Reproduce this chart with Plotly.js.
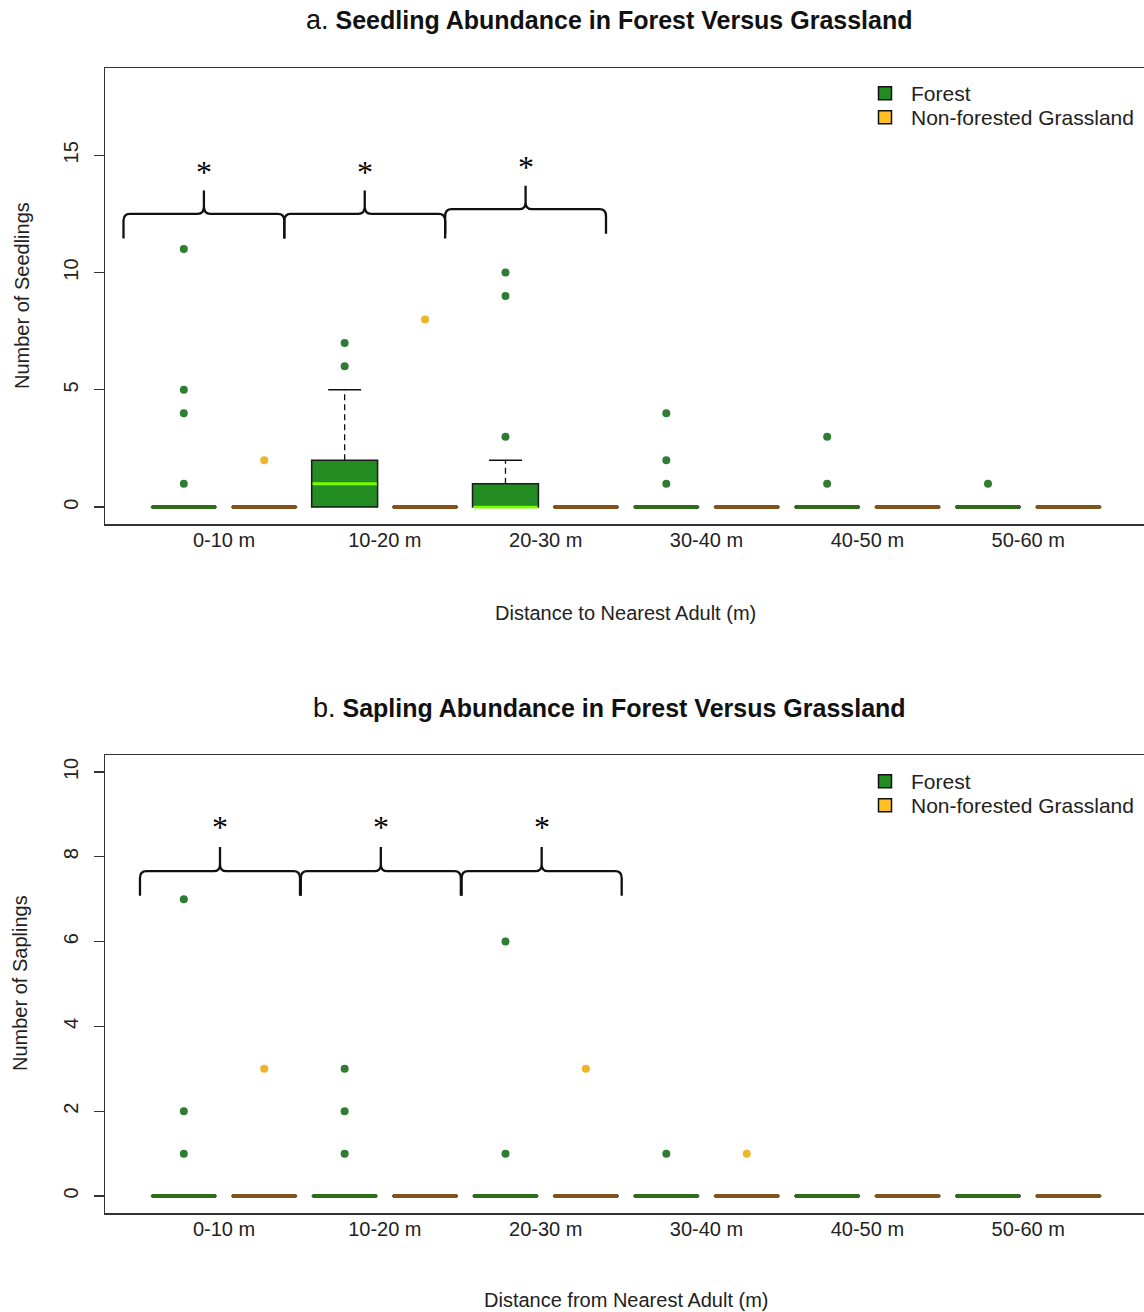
<!DOCTYPE html>
<html>
<head>
<meta charset="utf-8">
<script src="https://cdn.plot.ly/plotly-3.0.1.min.js"></script>
<style>html,body{margin:0;padding:0;background:#fff;}#chart{width:1144px;height:1312px;}</style>
</head>
<body>
<div id="chart"></div>
<script>
// ---------- data ----------
const categories = ['0-10 m', '10-20 m', '20-30 m', '30-40 m', '40-50 m', '50-60 m'];
const groupNames = ['Forest', 'Non-forested Grassland'];

// Panel a: seedlings
const seedForestQ1 = [0, 0, 0, 0, 0, 0];
const seedForestMedian = [0, 1, 0, 0, 0, 0];
const seedForestQ3 = [0, 2, 1, 0, 0, 0];
const seedForestWhiskerHigh = [0, 5, 2, 0, 0, 0];
const seedForestOutliers = [[1, 4, 5, 11], [6, 7], [3, 9, 10], [1, 2, 4], [1, 3], [1]];
const seedGrassQ1 = [0, 0, 0, 0, 0, 0];
const seedGrassMedian = [0, 0, 0, 0, 0, 0];
const seedGrassQ3 = [0, 0, 0, 0, 0, 0];
const seedGrassWhiskerHigh = [0, 0, 0, 0, 0, 0];
const seedGrassOutliers = [[2], [8], [], [], [], []];

// Panel b: saplings
const saplForestQ1 = [0, 0, 0, 0, 0, 0];
const saplForestMedian = [0, 0, 0, 0, 0, 0];
const saplForestQ3 = [0, 0, 0, 0, 0, 0];
const saplForestWhiskerHigh = [0, 0, 0, 0, 0, 0];
const saplForestOutliers = [[1, 2, 7], [1, 2, 3], [1, 6], [1], [], []];
const saplGrassQ1 = [0, 0, 0, 0, 0, 0];
const saplGrassMedian = [0, 0, 0, 0, 0, 0];
const saplGrassQ3 = [0, 0, 0, 0, 0, 0];
const saplGrassWhiskerHigh = [0, 0, 0, 0, 0, 0];
const saplGrassOutliers = [[3], [], [3], [1], [], []];

// significance braces (category index they sit over)
const seedSignifCats = [0, 1, 2];
const saplSignifCats = [0, 1, 2];

// ---------- style ----------
const FONT = 'Liberation Sans, Arial, sans-serif';
const BOXW = 0.82;
const style = {
  fill: ['#228B22', '#FFC125'],
  outlier: ['#2E7D32', '#F0B429'],
  medianLight: ['#7CFC00', '#FFD27A'],
  medianFlat: ['#2F6B18', '#80531A']
};

const W = 1144, H = 1312, PL = 105, PW = W - PL;
function py(px) { return 1 - px / H; }
function pxx(px) { return (px - PL) / PW; }

function pos(ci, gi) { return 2 * ci + gi + 1; }

const traces = [];

function addPanel(groups, xa, ya, legendIds) {
  groups.forEach((g, gi) => {
    const xs = categories.map((c, ci) => pos(ci, gi));
    traces.push({
      type: 'box', x: xs, q1: g.q1, median: g.median, q3: g.q3,
      lowerfence: g.q1, upperfence: g.q3, width: BOXW, whiskerwidth: 0,
      fillcolor: style.fill[gi], line: {color: '#1a1a1a', width: 1.5},
      boxpoints: false, showlegend: false, hoverinfo: 'skip', xaxis: xa, yaxis: ya
    });
  });
  groups.forEach((g, gi) => {
    categories.forEach((c, ci) => {
      const p = pos(ci, gi);
      if (g.wh[ci] > g.q3[ci]) {
        traces.push({type: 'scatter', mode: 'lines', x: [p, p], y: [g.q3[ci], g.wh[ci]],
          line: {color: '#111', width: 1.3, dash: '6px,4px'}, showlegend: false, hoverinfo: 'skip', xaxis: xa, yaxis: ya});
        traces.push({type: 'scatter', mode: 'lines', x: [p - BOXW / 4, p + BOXW / 4], y: [g.wh[ci], g.wh[ci]],
          line: {color: '#111', width: 1.5}, showlegend: false, hoverinfo: 'skip', xaxis: xa, yaxis: ya});
      }
      const flat = g.q1[ci] === g.q3[ci];
      traces.push({type: 'scatter', mode: 'lines', x: [p - BOXW / 2 + 0.01, p + BOXW / 2 - 0.01], y: [g.median[ci], g.median[ci]],
        line: {color: flat ? style.medianFlat[gi] : style.medianLight[gi], width: flat ? 4 : 3},
        showlegend: false, hoverinfo: 'skip', xaxis: xa, yaxis: ya});
    });
    const ox = [], oy = [];
    g.out.forEach((arr, ci) => arr.forEach(v => { ox.push(pos(ci, gi)); oy.push(v); }));
    traces.push({type: 'scatter', mode: 'markers', x: ox, y: oy,
      marker: {color: style.outlier[gi], size: 8}, showlegend: false, hoverinfo: 'skip', xaxis: xa, yaxis: ya});
  });
  groups.forEach((g, gi) => {
    traces.push({type: 'scatter', mode: 'markers', x: [null], y: [null], name: groupNames[gi],
      marker: {symbol: 'square', size: 13, color: style.fill[gi], line: {color: '#111', width: 1.5}},
      legend: legendIds[gi], xaxis: xa, yaxis: ya});
  });
}

addPanel([
  {q1: seedForestQ1, median: seedForestMedian, q3: seedForestQ3, wh: seedForestWhiskerHigh, out: seedForestOutliers},
  {q1: seedGrassQ1, median: seedGrassMedian, q3: seedGrassQ3, wh: seedGrassWhiskerHigh, out: seedGrassOutliers}
], 'x', 'y', ['legend', 'legend2']);
addPanel([
  {q1: saplForestQ1, median: saplForestMedian, q3: saplForestQ3, wh: saplForestWhiskerHigh, out: saplForestOutliers},
  {q1: saplGrassQ1, median: saplGrassMedian, q3: saplGrassQ3, wh: saplGrassWhiskerHigh, out: saplGrassOutliers}
], 'x2', 'y2', ['legend3', 'legend4']);

// braces
function bracePath(xc, w, yLine, yEnd, yTip, rx, ry) {
  const x0 = xc - w, x1 = xc + w;
  return 'M' + x0 + ',' + yEnd + ' L' + x0 + ',' + (yLine - ry) +
    ' Q' + x0 + ',' + yLine + ' ' + (x0 + rx) + ',' + yLine +
    ' L' + (xc - rx) + ',' + yLine +
    ' Q' + xc + ',' + yLine + ' ' + xc + ',' + (yLine + ry) +
    ' L' + xc + ',' + yTip +
    ' M' + xc + ',' + (yLine + ry) +
    ' Q' + xc + ',' + yLine + ' ' + (xc + rx) + ',' + yLine +
    ' L' + (x1 - rx) + ',' + yLine +
    ' Q' + x1 + ',' + yLine + ' ' + x1 + ',' + (yLine - ry) +
    ' L' + x1 + ',' + yEnd;
}
const shapes = [];
const annotations = [];
const braceA = {offset: -0.25, w: 1.0, yLine: [12.5, 12.5, 12.7], yEnd: [11.45, 11.45, 11.65], yTip: [13.5, 13.5, 13.7], star: [14.3, 14.3, 14.5], rx: 0.08, ry: 0.3};
const braceB = {offset: -0.05, w: 0.995, yLine: [7.66, 7.66, 7.66], yEnd: [7.08, 7.08, 7.08], yTip: [8.23, 8.23, 8.23], star: [8.7, 8.7, 8.7], rx: 0.08, ry: 0.16};
function addBraces(cats, b, xr, yr) {
  cats.forEach((ci, k) => {
    const xc = 2 * ci + 1.5 + b.offset;
    shapes.push({type: 'path', xref: xr, yref: yr, path: bracePath(xc, b.w, b.yLine[k], b.yEnd[k], b.yTip[k], b.rx, b.ry),
      line: {color: '#111', width: 2.3}});
    annotations.push({xref: xr, yref: yr, x: xc, y: b.star[k], text: '*', showarrow: false,
      font: {family: 'Liberation Serif, serif', size: 32, color: '#000'}, yanchor: 'middle'});
  });
}
addBraces(seedSignifCats, braceA, 'x', 'y');
addBraces(saplSignifCats, braceB, 'x2', 'y2');

// titles
function paperText(px, pyv, text, font, extra) {
  return Object.assign({xref: 'paper', yref: 'paper', x: pxx(px), y: py(pyv), text: text, showarrow: false,
    xanchor: 'center', yanchor: 'middle', font: font}, extra || {});
}
const titleFont = {family: FONT, size: 25, color: '#111'};
const labelFont = {family: FONT, size: 20, color: '#222'};
annotations.push(
  paperText(609, 20, '<span style="font-size:27px">a.</span> <b>Seedling Abundance in Forest Versus Grassland</b>', titleFont),
  paperText(609, 708, '<span style="font-size:27px">b.</span> <b>Sapling Abundance in Forest Versus Grassland</b>', titleFont),
  paperText(625, 613, 'Distance to Nearest Adult (m)', labelFont),
  paperText(626, 1300, 'Distance from Nearest Adult (m)', labelFont),
  paperText(22, 296, 'Number of Seedlings', labelFont, {textangle: -90}),
  paperText(20, 983, 'Number of Saplings', labelFont, {textangle: -90})
);

const xTickVals = categories.map((c, ci) => 2 * ci + 1.5);
const xBase = {
  range: [0.02, 12.94], tickvals: xTickVals, ticktext: categories, ticks: '', showgrid: false, zeroline: false,
  showline: true, mirror: true, linecolor: '#333', linewidth: 1.5, tickfont: {family: FONT, size: 20, color: '#222'},
  ticklabelstandoff: -3
};
const yBase = {
  showgrid: false, zeroline: false, showline: true, mirror: false, linecolor: '#333', linewidth: 1.5,
  ticks: 'outside', ticklen: 10, tickwidth: 1.3, tickcolor: '#333', tickangle: -90,
  tickfont: {family: FONT, size: 20, color: '#222'}, ticklabelstandoff: 8
};
const legendBase = {xanchor: 'left', yanchor: 'top', bgcolor: 'rgba(0,0,0,0)', font: {family: FONT, size: 21, color: '#222'},
  itemwidth: 42, tracegroupgap: 0, x: pxx(859)};

const layout = {
  width: W, height: H,
  margin: {l: PL, r: 0, t: 0, b: 0, autoexpand: false},
  paper_bgcolor: '#fff', plot_bgcolor: '#fff',
  xaxis: Object.assign({}, xBase, {anchor: 'y', domain: [0, 1]}),
  yaxis: Object.assign({}, yBase, {anchor: 'x', domain: [py(524), py(68)], range: [-0.72, 18.72], tickvals: [0, 5, 10, 15]}),
  xaxis2: Object.assign({}, xBase, {anchor: 'y2', domain: [0, 1]}),
  yaxis2: Object.assign({}, yBase, {anchor: 'x2', domain: [py(1213), py(755)], range: [-0.4, 10.4], tickvals: [0, 2, 4, 6, 8, 10]}),
  legend: Object.assign({}, legendBase, {y: py(73)}),
  legend2: Object.assign({}, legendBase, {y: py(97)}),
  legend3: Object.assign({}, legendBase, {y: py(761)}),
  legend4: Object.assign({}, legendBase, {y: py(785)}),
  shapes: shapes,
  annotations: annotations,
  showlegend: true
};

Plotly.newPlot('chart', traces, layout, {staticPlot: true, displayModeBar: false});
</script>
</body>
</html>
